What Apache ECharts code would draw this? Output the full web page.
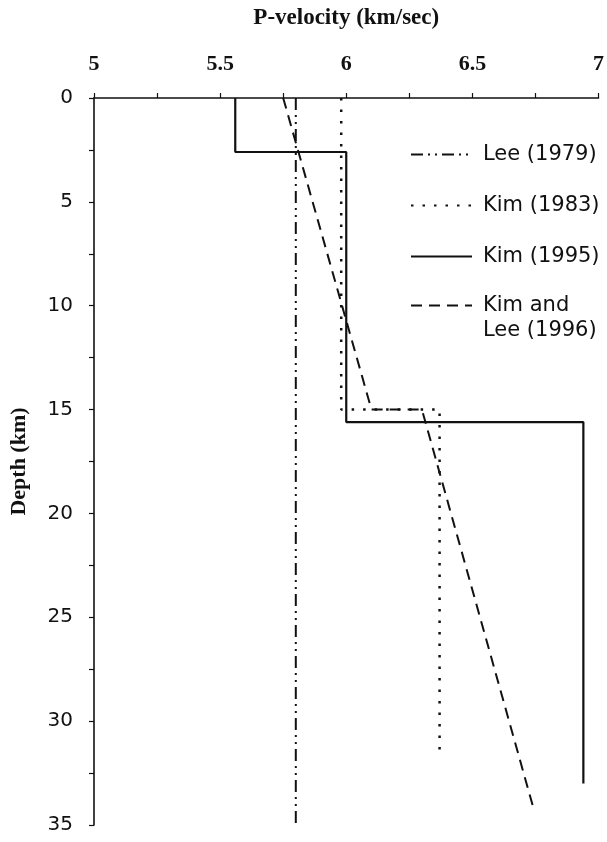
<!DOCTYPE html>
<html>
<head>
<meta charset="utf-8">
<script src="https://cdn.jsdelivr.net/npm/echarts@6/dist/echarts.min.js"></script>
<style>html,body{margin:0;padding:0;background:#fff;}#c{width:607px;height:842px;}</style>
</head>
<body>
<div id="c"></div>
<script>
// Data (velocity in km/sec, depth in km)
const seriesNames = ['Lee (1979)', 'Kim (1983)', 'Kim (1995)', 'Kim and\nLee (1996)'];
const lee1979Vel = [5.80, 5.80];
const lee1979Depth = [0, 35];
const kim1983Vel = [5.98, 5.98, 6.37, 6.37];
const kim1983Depth = [0, 15, 15, 31.8];
const kim1995Vel = [5.56, 5.56, 6.00, 6.00, 6.94, 6.94];
const kim1995Depth = [0, 2.6, 2.6, 15.6, 15.6, 33];
const kimLee1996Vel = [5.75, 6.10, 6.30, 6.74];
const kimLee1996Depth = [0, 15, 15, 34.1];
const velocityTicks = [5, 5.5, 6, 6.5, 7];
const depthTicks = [0, 5, 10, 15, 20, 25, 30, 35];

const pair = (v, d) => v.map((x, i) => [x, d[i]]);
const ink = '#111';
const chart = echarts.init(document.getElementById('c'), null, {renderer: 'canvas'});

const mk = (name, v, d, type, width) => ({
  name, type: 'line', data: pair(v, d), symbol: 'none', showSymbol: false,
  animation: false, color: ink,
  lineStyle: {color: ink, width: width, type: type, cap: 'butt'}
});

const legendText = {fontFamily: 'DejaVu Sans', fontSize: 21, color: ink, lineHeight: 25, padding: [0, 0, 0, 6]};

chart.setOption({
  backgroundColor: '#fff',
  animation: false,
  grid: {left: 94, right: 7, top: 98, bottom: 17, containLabel: false},
  xAxis: {
    type: 'value', position: 'top',
    min: velocityTicks[0], max: velocityTicks[velocityTicks.length - 1], interval: 0.5,
    name: 'P-velocity (km/sec)', nameLocation: 'middle', nameGap: 68,
    nameTextStyle: {fontFamily: 'Liberation Serif', fontWeight: 'bold', fontSize: 23, color: ink},
    axisLine: {show: true, lineStyle: {color: ink, width: 1.6}},
    axisTick: {show: true, inside: false, length: 5, lineStyle: {color: ink, width: 1.2}},
    minorTick: {show: true, splitNumber: 2, length: 5, lineStyle: {color: ink, width: 1.2}},
    splitLine: {show: false},
    axisLabel: {margin: 23, fontFamily: 'Liberation Serif', fontWeight: 'bold', fontSize: 22, color: ink,
      formatter: v => String(v)}
  },
  yAxis: {
    type: 'value', inverse: true,
    min: depthTicks[0], max: depthTicks[depthTicks.length - 1], interval: 5,
    name: 'Depth (km)', nameLocation: 'middle', nameGap: 64,
    nameTextStyle: {fontFamily: 'Liberation Serif', fontWeight: 'bold', fontSize: 22, color: ink},
    axisLine: {show: true, lineStyle: {color: ink, width: 1.6}},
    axisTick: {show: true, inside: false, length: 5, lineStyle: {color: ink, width: 1.2}},
    minorTick: {show: true, splitNumber: 2, length: 5, lineStyle: {color: ink, width: 1.2}},
    splitLine: {show: false},
    axisLabel: {margin: 21, fontFamily: 'DejaVu Sans', fontSize: 20, color: ink}
  },
  legend: [{
    orient: 'vertical', left: 410, top: 142, padding: 0, itemWidth: 61, itemHeight: 14, itemGap: 26,
    data: seriesNames.slice(0, 3),
    itemStyle: {opacity: 0},
    textStyle: legendText, selectedMode: false
  }, {
    orient: 'vertical', left: 410, top: 268, padding: 0, itemWidth: 61, itemHeight: 14,
    data: seriesNames.slice(3),
    itemStyle: {opacity: 0},
    formatter: name => '\u00a0\n' + name,
    textStyle: legendText, selectedMode: false
  }],
  series: [
    mk(seriesNames[0], lee1979Vel, lee1979Depth, [12, 5, 2, 5, 2, 5], 2),
    mk(seriesNames[1], kim1983Vel, kim1983Depth, [2.5, 9], 2.5),
    mk(seriesNames[2], kim1995Vel, kim1995Depth, 'solid', 2.2),
    mk(seriesNames[3], kimLee1996Vel, kimLee1996Depth, [11, 7], 2)
  ]
});
</script>
</body>
</html>
